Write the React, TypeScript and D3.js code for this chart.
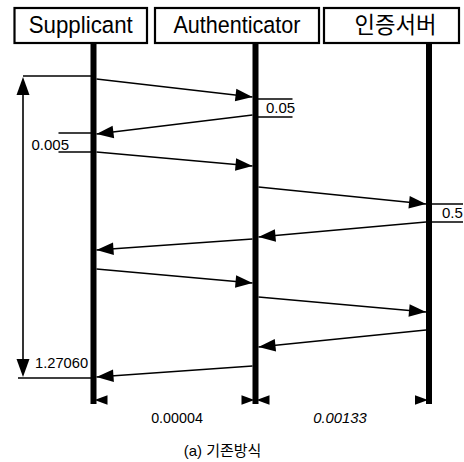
import React from "react";
import * as d3 from "d3";

const participants = ["Supplicant", "Authenticator", "인증서버"];
// message sequence (participant index, start / end time in diagram units)
const msgFrom = [0, 1, 0, 1, 2, 1, 0, 1, 2, 1];
const msgTo = [1, 0, 1, 2, 1, 0, 1, 2, 1, 0];
const msgStart = [3, 39, 76, 111, 146, 163, 193, 221, 254, 290];
const msgEnd = [21, 58, 90, 128, 161, 174, 207, 236, 271, 301];
// processing-time annotations
const procLabels = ["0.05", "0.005", "0.5"];
const procParticipant = [1, 0, 2];
const procSide = [1, -1, 1];
const procStart = [23, 57, 128];
const procEnd = [41, 76, 146];
const totalLabel = "1.27060";
const gapLabels = ["0.00004", "0.00133"];
const caption = "(a) 기존방식";

const W = 464;
const H = 462;
const FONT = "'Liberation Sans', Arial, 'Noto Sans CJK KR', sans-serif";

export default function App() {
  const x = d3.scaleOrdinal<number, number>().domain([0, 1, 2]).range([93.5, 255.5, 429]);
  const y = d3.scaleLinear().domain([0, 302]).range([76, 378]);

  const boxes = [
    { x0: 14.5, x1: 147, tl: 104 },
    { x0: 155, x1: 319, tl: 127 },
    { x0: 324, x1: 459, tl: 82 },
  ];
  const boxTop = 8;
  const boxBottom = 43;
  const lifeBottom = 404;
  const lifeW = 6;

  const head = (tx: number, ty: number, dir: number, len = 17, hw = 6) => {
    return `${tx},${ty} ${tx - dir * len},${ty - hw} ${tx - dir * len},${ty + hw}`;
  };
  const headAngle = (x1: number, y1: number, x2: number, y2: number, len = 17, hw = 6.3) => {
    const a = Math.atan2(y2 - y1, x2 - x1);
    const bx = x2 - len * Math.cos(a);
    const by = y2 - len * Math.sin(a);
    const px = -Math.sin(a) * hw;
    const py = Math.cos(a) * hw;
    return `${x2},${y2} ${bx + px},${by + py} ${bx - px},${by - py}`;
  };

  return (
    <svg width={W} height={H} viewBox={`0 0 ${W} ${H}`} style={{ position: "absolute", left: 0, top: 0, background: "#fff" }}>
      <rect x={0} y={0} width={W} height={H} fill="#fff" />
      {/* header boxes */}
      {participants.map((p, i) => (
        <g key={p}>
          <rect x={boxes[i].x0} y={boxTop} width={boxes[i].x1 - boxes[i].x0} height={boxBottom - boxTop} fill="#fff" stroke="#000" strokeWidth={2.2} />
          <text
            x={(boxes[i].x0 + boxes[i].x1) / 2 + (i === 2 ? 4 : 0)}
            y={33}
            textAnchor="middle"
            fontFamily={i === 2 ? "'Noto Sans CJK KR', sans-serif" : FONT}
            fontSize={i === 2 ? 23 : 24.5}
            textLength={boxes[i].tl}
            lengthAdjust="spacingAndGlyphs"
            fill="#000"
          >
            {p}
          </text>
        </g>
      ))}
      {/* lifelines */}
      {participants.map((p, i) => (
        <line key={"l" + i} x1={x(i)} x2={x(i)} y1={boxBottom} y2={lifeBottom} stroke="#000" strokeWidth={lifeW} />
      ))}
      {/* messages */}
      {msgFrom.map((f, i) => {
        const t = msgTo[i];
        const dir = x(t) > x(f) ? 1 : -1;
        const x1 = x(f) + dir * 3;
        const x2 = x(t) - dir * 3;
        const y1 = y(msgStart[i]);
        const y2 = y(msgEnd[i]);
        return (
          <g key={"m" + i}>
            <line x1={x1} y1={y1} x2={x2} y2={y2} stroke="#000" strokeWidth={1.6} />
            <polygon points={headAngle(x1, y1, x2, y2)} fill="#000" />
          </g>
        );
      })}
      {/* processing time annotations */}
      {procLabels.map((lab, i) => {
        const px = x(procParticipant[i]);
        const side = procSide[i];
        const ext = side > 0 ? (procParticipant[i] === 2 ? 34 : 37) : 35;
        const xa = px;
        const xb = px + side * ext;
        const ya = y(procStart[i]);
        const yb = y(procEnd[i]);
        return (
          <g key={"p" + i}>
            <line x1={xa} x2={xb} y1={ya} y2={ya} stroke="#000" strokeWidth={1.5} />
            <line x1={xa} x2={xb} y1={yb} y2={yb} stroke="#000" strokeWidth={1.5} />
            <text
              x={side > 0 ? px + (procParticipant[i] === 2 ? 13 : 10.5) : 69}
              y={yb - (side > 0 ? 4 : 2)}
              textAnchor={side > 0 ? "start" : "end"}
              fontFamily={FONT}
              fontSize={15}
              fill="#000"
            >
              {lab}
            </text>
          </g>
        );
      })}
      {/* total time dimension */}
      <line x1={23} x2={x(0)} y1={y(0)} y2={y(0)} stroke="#000" strokeWidth={1.5} />
      <line x1={18} x2={x(0)} y1={y(302)} y2={y(302)} stroke="#000" strokeWidth={1.5} />
      <line x1={23} x2={23} y1={y(0) + 10} y2={y(302) - 10} stroke="#000" strokeWidth={1.6} />
      <polygon points={`23,${y(0) + 1} 16.5,${y(0) + 19} 29.5,${y(0) + 19}`} fill="#000" />
      <polygon points={`23,${y(302) - 1} 16.5,${y(302) - 19} 29.5,${y(302) - 19}`} fill="#000" />
      <text x={35} y={368} fontFamily={FONT} fontSize={14.7} fill="#000">{totalLabel}</text>
      {/* bottom gap arrows */}
      <polygon points={head(x(0) + 1, 400, -1, 13, 4.8)} fill="#000" />
      <polygon points={head(x(1) - 1, 400, 1, 13, 4.8)} fill="#000" />
      <polygon points={head(x(1) + 1, 400, -1, 13, 4.8)} fill="#000" />
      <polygon points={head(x(2) - 1, 400, 1, 13, 4.8)} fill="#000" />
      <text x={177} y={423} textAnchor="middle" fontFamily={FONT} fontSize={14.3} fill="#000">{gapLabels[0]}</text>
      <text x={340} y={423} textAnchor="middle" fontFamily={FONT} fontSize={14.8} fontStyle="italic" fill="#000">{gapLabels[1]}</text>
      {/* caption */}
      <text x={222.5} y={456} textAnchor="middle" fontFamily={FONT} fontSize={15} fill="#000">{caption}</text>
    </svg>
  );
}
